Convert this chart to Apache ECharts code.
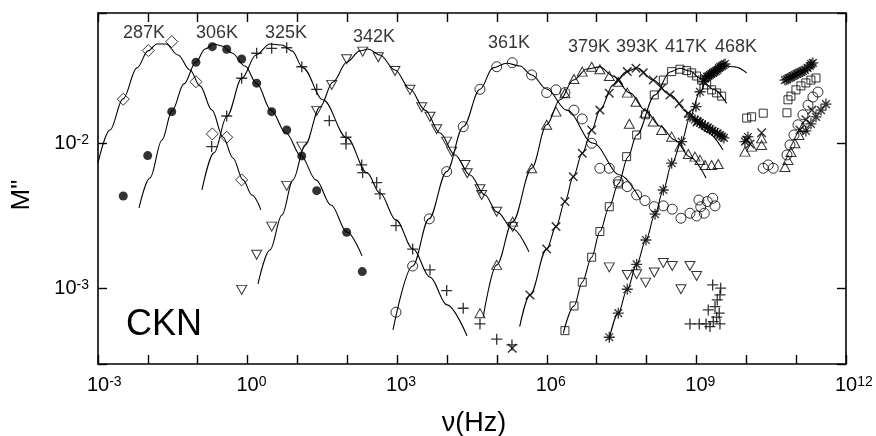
<!DOCTYPE html>
<html><head><meta charset="utf-8">
<script src="https://cdn.jsdelivr.net/npm/echarts@6/dist/echarts.min.js"></script>
<style>html,body{margin:0;padding:0;background:#fff}#c{width:876px;height:436px}</style>
</head><body><div id="c"></div>
<script>
// ---- axis ranges ----
const X_MIN = 1e-3, X_MAX = 1e12;
const Y_MIN = 3.03e-4, Y_MAX = 7.87e-2;
const X_LABEL_EXPONENTS = [-3, 0, 3, 6, 9, 12];
const Y_LABEL_EXPONENTS = [-3, -2];

// ---- temperature labels ----
const tempNames = ['287K','306K','325K','342K','361K','379K','393K','417K','468K'];
const tempLabelAnchor = [[8.36e-3,5.74e-2],[0.243,5.74e-2],[5.89,5.74e-2],[342,5.38e-2],[1.74e5,4.87e-2],[7.01e6,4.57e-2],[6.43e7,4.57e-2],[6.17e8,4.57e-2],[6.21e9,4.57e-2]];

// ---- data: [frequency Hz, M''] ----
const T287_pts = [[3.21e-3,2.01e-2],[1.02e-2,4.34e-2],[3.01e-2,5.0e-2],[9.2e-2,2.65e-2],[0.196,1.16e-2],[0.381,1.10e-2],[0.76,5.6e-3]];
const T287_fit = [[1e-3,7.32e-3],[1.74e-3,1.234e-2],[3.17e-3,2.02e-2],[6.05e-3,3.30e-2],[1.01e-2,4.32e-2],[1.52e-2,4.82e-2],[2.31e-2,4.82e-2],[4.02e-2,4.05e-2],[7.0e-2,3.19e-2],[0.111,2.48e-2],[0.193,1.69e-2],[0.321,1.105e-2],[0.509,7.92e-3],[0.808,5.6e-3],[1.22,4.41e-3],[1.85,3.48e-3]];

const T306_pts = [[3.21e-3,4.34e-3],[9.92e-3,8.22e-3],[3.01e-2,1.65e-2],[9.2e-2,3.61e-2],[0.196,4.62e-2],[0.381,4.43e-2],[0.76,3.80e-2],[1.52,2.59e-2],[3.04,1.65e-2],[6.08,1.234e-2],[12.2,8.18e-3],[24.3,4.72e-3],[97,2.44e-3],[199.5,1.31e-3]];
const T306_fit = [[6.64e-3,3.59e-3],[1.10e-2,5.77e-3],[1.92e-2,1.054e-2],[3.05e-2,1.67e-2],[5.30e-2,2.56e-2],[9.2e-2,3.62e-2],[0.140,4.45e-2],[0.212,4.82e-2],[0.307,4.67e-2],[0.486,4.18e-2],[0.886,3.40e-2],[1.54,2.56e-2],[2.94,1.69e-2],[5.89,1.177e-2],[11.8,8.18e-3],[23.5,5.6e-3],[47.0,3.76e-3],[98.4,2.45e-3],[197,1.68e-3]];

const T325_pts = [[0.19,9.48e-3],[0.381,1.54e-2],[0.76,2.80e-2],[1.52,4.16e-2],[3.04,4.50e-2],[6.08,4.54e-2],[12.2,3.36e-2],[24.3,2.35e-2],[43.5,1.43e-2],[94,1.10e-2],[94,9.89e-3],[194,7.09e-3],[203,6.28e-3],[388,5.36e-3],[451,4.48e-3],[945,2.71e-3],[2040,1.87e-3],[4540,1.344e-3],[9820,9.69e-4],[2.11e4,7.33e-4],[4.57e4,5.72e-4],[9.9e4,4.49e-4],[2.0e5,4.1e-4]];
const T325_tail = [[2.12e9,1.06e-3],[3.07e9,1.007e-3],[2.97e9,9.05e-4],[2.62e9,8.36e-4],[2.36e9,7.52e-4],[1.73e9,7.14e-4],[2.87e9,6.78e-4],[2.55e9,6.36e-4],[7.43e8,5.72e-4],[1.14e9,5.72e-4],[1.56e9,5.72e-4],[1.87e9,5.48e-4],[2.97e9,5.72e-4],[2.18e9,5.93e-4]];
const T325_fit = [[0.1217,4.77e-3],[0.212,8.58e-3],[0.386,1.54e-2],[0.772,2.81e-2],[1.473,4.05e-2],[2.81,4.82e-2],[4.89,4.74e-2],[7.76,4.32e-2],[12.9,3.30e-2],[32.5,1.99e-2],[98.4,1.088e-2],[248,6.25e-3],[451,4.55e-3],[945,2.97e-3],[2072,1.876e-3],[4540,1.20e-3],[9960,7.73e-4],[2.51e4,4.73e-4]];

const T342_pts = [[0.76,9.8e-4],[1.52,1.71e-3],[3.04,2.67e-3],[6.08,5.09e-3],[12.2,9.48e-3],[24.3,1.67e-2],[48.6,2.52e-2],[97,3.78e-2],[203,4.27e-2],[417,3.90e-2],[903,3.14e-2],[1803,2.33e-2],[3097,1.77e-2],[4540,1.52e-2],[6190,1.248e-2],[9820,1.026e-2],[1.237e4,8.76e-3],[2.29e4,7.09e-3],[2.54e4,6.22e-3],[4.57e4,4.83e-3],[4.94e4,4.41e-3],[9.9e4,3.38e-3],[2.07e5,2.66e-3]];
const T342_tail = [[1.79e7,1.40e-3],[4.11e7,1.24e-3],[6.34e7,1.257e-3],[9.6e7,1.10e-3],[1.43e8,1.29e-3],[2.17e8,1.50e-3],[3.28e8,1.43e-3],[4.9e8,9.9e-4],[7.43e8,1.43e-3],[1.01e9,1.22e-3]];
const T342_fit = [[1.616,1.077e-3],[2.81,1.845e-3],[4.89,3.21e-3],[8.13,5.6e-3],[14.2,9.73e-3],[28.3,1.777e-2],[51.5,2.64e-2],[98.4,3.62e-2],[179,4.32e-2],[259,4.45e-2],[451,4.05e-2],[903,3.19e-2],[1803,2.36e-2],[3606,1.69e-2],[7206,1.177e-2],[1.44e4,8.31e-3],[2.88e4,6.05e-3],[5.75e4,4.41e-3],[1.0e5,3.37e-3],[2.10e5,2.57e-3],[4.39e5,1.79e-3]];

const T361_pts = [[945,6.88e-4],[2040,1.43e-3],[4400,3.02e-3],[9820,6.38e-3],[2.11e4,1.30e-2],[4.57e4,2.35e-2],[9.9e4,3.36e-2],[2.03e5,3.58e-2],[4.97e5,2.95e-2],[9.94e5,2.23e-2],[1.53e6,2.33e-2],[2.31e6,2.23e-2],[3.51e6,1.69e-2],[5.14e6,1.47e-2],[7.94e6,1.0e-2],[1.16e7,6.73e-3],[1.79e7,6.73e-3],[2.71e7,5.44e-3],[4.11e7,5.03e-3],[6.34e7,4.41e-3],[9.3e7,4.03e-3],[1.43e8,3.66e-3],[2.17e8,3.71e-3],[3.28e8,3.52e-3],[4.9e8,3.05e-3],[7.43e8,3.30e-3],[1.01e9,3.16e-3],[1.12e9,4.07e-3],[1.22e9,3.66e-3],[1.44e9,3.30e-3],[1.65e9,3.97e-3],[2.12e9,4.18e-3],[2.36e9,3.71e-3],[2.19e10,6.73e-3],[2.76e10,7.09e-3],[3.48e10,6.73e-3],[6.55e10,8.31e-3],[7.52e10,9.73e-3],[9.04e10,1.14e-2],[1.09e11,1.34e-2],[1.37e11,1.57e-2],[1.73e11,1.83e-2],[2.17e11,2.08e-2],[2.74e11,2.25e-2]];
const T361_fit = [[823,5.2e-4],[2040,1.43e-3],[4340,3.02e-3],[9820,6.38e-3],[2.11e4,1.30e-2],[4.57e4,2.35e-2],[8.33e4,3.30e-2],[1.57e5,3.55e-2],[2.90e5,3.40e-2],[4.97e5,2.95e-2],[9.94e5,2.36e-2],[2.50e6,1.69e-2],[8.55e6,1.0e-2],[2.93e7,6.05e-3],[7.38e7,4.14e-3]];

const T379_pts = [[4.57e4,6.78e-4],[9.9e4,1.456e-3],[2.07e5,2.89e-3],[4.97e5,6.73e-3],[9.94e5,1.34e-2],[1.53e6,1.65e-2],[2.31e6,2.21e-2],[3.51e6,2.77e-2],[5.14e6,3.11e-2],[7.94e6,3.36e-2],[1.16e7,3.23e-2],[1.79e7,2.90e-2],[2.71e7,2.65e-2],[4.11e7,2.23e-2],[6.14e7,1.93e-2],[9.3e7,1.62e-2],[1.36e8,1.41e-2],[2.01e8,1.234e-2],[3.19e8,1.11e-2],[4.68e8,9.48e-3],[6.87e8,8.44e-3],[9.36e8,8.09e-3],[1.18e9,7.68e-3],[1.49e9,7.09e-3],[2.02e9,7.09e-3],[2.74e9,7.2e-3],[4.51e7,1.36e-2],[9.4e9,8.76e-3],[1.28e10,9.48e-3],[2.03e10,1.08e-2],[2.03e10,9.73e-3],[5.97e10,6.87e-3],[6.86e10,7.68e-3],[7.87e10,8.71e-3],[9.46e10,1.0e-2],[1.14e11,1.14e-2],[1.37e11,1.295e-2]];
const T379_fit = [[5.32e4,6.42e-4],[9.9e4,1.456e-3],[2.07e5,2.89e-3],[4.97e5,6.73e-3],[9.94e5,1.34e-2],[1.84e6,1.99e-2],[3.40e6,2.72e-2],[6.38e6,3.24e-2],[1.16e7,3.35e-2],[2.12e7,2.90e-2],[4.65e7,2.22e-2],[9.3e7,1.69e-2],[1.86e8,1.315e-2],[3.72e8,1.054e-2],[7.43e8,8.05e-3],[1.56e9,5.77e-3]];

const T393_pts = [[2.03e5,3.89e-4],[4.60e5,9.05e-4],[9.94e5,1.87e-3],[1.53e6,2.67e-3],[2.31e6,3.97e-3],[3.40e6,5.89e-3],[5.14e6,8.54e-3],[7.94e6,1.234e-2],[1.16e7,1.69e-2],[1.79e7,2.21e-2],[2.71e7,2.72e-2],[4.11e7,3.11e-2],[6.14e7,3.28e-2],[8.6e7,3.06e-2],[1.36e8,2.72e-2],[2.01e8,2.39e-2],[2.95e8,2.15e-2],[4.53e8,1.88e-2],[6.87e8,1.61e-2],[1.03e9,1.40e-2],[1.02e10,1.054e-2],[1.19e10,9.89e-3],[2.03e10,1.18e-2],[1.19e11,1.234e-2],[1.57e11,1.45e-2],[2.07e11,1.69e-2]];
const T393_fit = [[2.86e5,5.48e-4],[4.60e5,9.05e-4],[9.94e5,1.87e-3],[1.53e6,2.67e-3],[2.31e6,3.97e-3],[3.40e6,5.89e-3],[5.14e6,8.54e-3],[7.94e6,1.234e-2],[1.16e7,1.69e-2],[2.15e7,2.52e-2],[3.99e7,3.11e-2],[6.43e7,3.30e-2],[1.36e8,2.72e-2],[2.95e8,2.15e-2],[6.87e8,1.62e-2],[1.61e9,1.20e-2],[3.41e9,8.99e-3]];

const T417_pts = [[2.31e6,5.14e-4],[3.51e6,7.6e-4],[5.14e6,1.107e-3],[7.94e6,1.644e-3],[1.16e7,2.47e-3],[1.79e7,3.66e-3],[2.71e7,5.25e-3],[3.99e7,8.09e-3],[6.34e7,1.14e-2],[9.5e7,1.57e-2],[1.43e8,2.15e-2],[2.17e8,2.72e-2],[3.19e8,3.11e-2],[4.68e8,3.23e-2],[6.38e8,3.16e-2],[8.04e8,3.05e-2],[1.01e9,2.90e-2],[1.27e9,2.72e-2],[1.61e9,2.52e-2],[2.02e9,2.33e-2],[2.55e9,2.22e-2],[3.21e9,2.11e-2],[1.02e10,1.49e-2],[1.28e10,1.52e-2],[2.19e10,1.61e-2],[6.55e10,1.62e-2],[6.86e10,1.99e-2],[7.87e10,2.11e-2],[9.91e10,2.33e-2],[1.25e11,2.48e-2],[1.57e11,2.60e-2],[1.98e11,2.72e-2],[2.5e11,2.81e-2]];
const T417_fit = [[2.14e6,4.93e-4],[3.51e6,7.6e-4],[5.14e6,1.107e-3],[7.94e6,1.644e-3],[1.16e7,2.47e-3],[1.79e7,3.66e-3],[2.71e7,5.25e-3],[4.25e7,8.05e-3],[6.34e7,1.14e-2],[1.48e8,2.15e-2],[2.95e8,3.09e-2],[4.68e8,3.28e-2],[7.43e8,3.14e-2],[1.18e9,2.80e-2],[2.18e9,2.35e-2],[4.05e9,1.88e-2]];

const T468_pts = [[1.79e7,4.63e-4],[2.71e7,6.78e-4],[4.11e7,9.9e-4],[6.34e7,1.467e-3],[9.73e7,2.16e-3],[1.48e8,3.25e-3],[2.17e8,4.77e-3],[3.19e8,7.29e-3],[5.06e8,1.026e-2],[7.43e8,1.52e-2],[9.8e8,1.785e-2],[1.18e9,2.26e-2],[1.37e9,2.65e-2],[1.5e9,2.8e-2],[1.63e9,2.86e-2],[1.75e9,2.9e-2],[1.87e9,2.95e-2],[2.0e9,3.0e-2],[2.15e9,3.05e-2],[2.3e9,3.1e-2],[2.47e9,3.14e-2],[2.65e9,3.2e-2],[2.83e9,3.29e-2],[3.0e9,3.35e-2],[3.25e9,3.40e-2],[3.5e9,3.45e-2],[3.74e9,3.51e-2],[9.36e8,1.45e-2],[1.05e9,1.42e-2],[1.18e9,1.38e-2],[1.3e9,1.35e-2],[1.49e9,1.315e-2],[1.7e9,1.28e-2],[1.87e9,1.254e-2],[2.1e9,1.22e-2],[2.36e9,1.196e-2],[2.65e9,1.17e-2],[2.97e9,1.14e-2],[3.25e9,1.11e-2],[3.57e9,1.088e-2],[9.4e9,1.026e-2],[1.08e10,1.105e-2],[5.97e10,2.72e-2],[6.5e10,2.75e-2],[7.18e10,2.81e-2],[7.8e10,2.85e-2],[8.63e10,2.90e-2],[9.4e10,2.95e-2],[1.04e11,3.00e-2],[1.14e11,3.05e-2],[1.25e11,3.09e-2],[1.37e11,3.14e-2],[1.50e11,3.19e-2],[1.7e11,3.3e-2],[1.89e11,3.40e-2],[2.0e11,3.5e-2],[2.17e11,3.57e-2],[1.57e11,1.215e-2],[1.98e11,1.36e-2],[2.5e11,1.52e-2],[3.15e11,1.69e-2],[3.96e11,1.86e-2]];
const T468_fit = [[1.77e7,4.44e-4],[2.71e7,6.78e-4],[4.11e7,9.9e-4],[6.34e7,1.467e-3],[9.73e7,2.16e-3],[1.48e8,3.25e-3],[2.17e8,4.77e-3],[3.19e8,7.2e-3],[5.06e8,1.026e-2],[7.43e8,1.52e-2],[1.18e9,2.25e-2],[1.71e9,2.86e-2],[2.47e9,3.24e-2],[3.74e9,3.40e-2],[5.93e9,3.35e-2],[1.02e10,3.05e-2]];

// ---- styling ----
const FONT = '"Liberation Sans", Arial, Helvetica, sans-serif';
const PLUS = 'path://M4.4,0h1.2v10h-1.2z M0,4.4h10v1.2h-10z';
const STAR = 'path://M4.4,0h1.2v10h-1.2z M0,4.4h10v1.2h-10z M1.92,1.08L8.92,8.08L8.08,8.92L1.08,1.92z M8.08,1.08L8.92,1.92L1.92,8.92L1.08,8.08z';
const OPEN = {color: 'rgba(0,0,0,0)', borderColor: '#000', borderWidth: 1};
const FILL = {color: '#000', borderWidth: 0};

const sets = [
  {name: '287K', pts: T287_pts, fit: T287_fit, symbol: 'diamond', size: 12, rot: 0, item: OPEN},
  {name: '306K', pts: T306_pts, fit: T306_fit, symbol: 'circle', size: 9, rot: 0, item: FILL},
  {name: '325K', pts: T325_pts.concat(T325_tail), fit: T325_fit, symbol: PLUS, size: 11, rot: 0, item: FILL},
  {name: '342K', pts: T342_pts.concat(T342_tail), fit: T342_fit, symbol: 'triangle', size: [10, 9], rot: 180, item: OPEN},
  {name: '361K', pts: T361_pts, fit: T361_fit, symbol: 'circle', size: 10, rot: 0, item: OPEN},
  {name: '379K', pts: T379_pts, fit: T379_fit, symbol: 'triangle', size: [10, 9], rot: 0, item: OPEN},
  {name: '393K', pts: T393_pts, fit: T393_fit, symbol: PLUS, size: 12, rot: 45, item: FILL},
  {name: '417K', pts: T417_pts, fit: T417_fit, symbol: 'rect', size: 8, rot: 0, item: OPEN},
  {name: '468K', pts: T468_pts, fit: T468_fit, symbol: STAR, size: 11, rot: 0, item: FILL}
];

const supRich = {
  b: {fontSize: 20, lineHeight: 20, padding: [8, 0, 0, 0], verticalAlign: 'bottom', fontFamily: FONT, color: '#000'},
  s: {fontSize: 14, lineHeight: 14, verticalAlign: 'top', fontFamily: FONT, color: '#000'},
  p8: {width: 7.8, fontSize: 14, lineHeight: 14},
  p12: {width: 12.5, fontSize: 14, lineHeight: 14},
  p16: {width: 15.6, fontSize: 14, lineHeight: 14}
};
function powLabel(e, centerBase) {
  const sup = String(e);
  let pre = '';
  if (centerBase) {
    const w = sup.length === 1 ? 'p8' : (sup[0] === '-' ? 'p12' : 'p16');
    pre = '{' + w + '|\u00a0}';
  }
  return pre + '{b|10}{s|' + sup + '}';
}
function isExp(v, list) {
  const r = Math.round(v);
  return Math.abs(v - r) < 1e-6 && list.indexOf(r) >= 0;
}

const lx0 = Math.log10(X_MIN), lx1 = Math.log10(X_MAX);
const ly0 = Math.log10(Y_MIN), ly1 = Math.log10(Y_MAX);
const axisLine = {show: true, onZero: false, lineStyle: {color: '#000', width: 1.6}};
const tick = {show: true, inside: true, length: 9, lineStyle: {color: '#000', width: 1.4}};

const series = [];
sets.forEach(s => {
  series.push({
    type: 'line', name: s.name + ' fit', xAxisIndex: 0, yAxisIndex: 0,
    data: s.fit, showSymbol: false, symbol: 'none', smooth: 0.35, smoothMonotone: 'x',
    lineStyle: {color: '#000', width: 1.1}, z: 2, silent: true
  });
});
sets.forEach(s => {
  series.push({
    type: 'scatter', name: s.name, xAxisIndex: 0, yAxisIndex: 0,
    data: s.pts, symbol: s.symbol, symbolSize: s.size, symbolRotate: s.rot,
    itemStyle: s.item, z: 3, silent: true
  });
});
series.push({
  type: 'scatter', name: 'labels', xAxisIndex: 0, yAxisIndex: 0,
  data: tempNames.map((n, i) => ({name: n, value: tempLabelAnchor[i]})),
  symbolSize: 1, itemStyle: {color: 'rgba(0,0,0,0)'}, z: 5, silent: true,
  label: {show: true, position: 'inside', formatter: '{b}', fontSize: 18, fontFamily: FONT, color: '#000'}
});

const chart = echarts.init(document.getElementById('c'), null, {renderer: 'canvas'});
chart.setOption({
  animation: false,
  backgroundColor: '#fff',
  grid: {left: 98, right: 30, top: 13, bottom: 72, containLabel: false},
  xAxis: [
    {type: 'log', logBase: 10, min: X_MIN, max: X_MAX, show: false},
    {type: 'value', position: 'bottom', min: lx0, max: lx1, interval: 1,
     axisLine: axisLine, axisTick: tick, splitLine: {show: false},
     axisLabel: {margin: 11, color: '#000', fontFamily: FONT, rich: supRich,
       formatter: v => isExp(v, X_LABEL_EXPONENTS) ? powLabel(Math.round(v), true) : ''}},
    {type: 'value', position: 'top', min: lx0, max: lx1, interval: 1,
     axisLine: axisLine, axisTick: tick, splitLine: {show: false}, axisLabel: {show: false}}
  ],
  yAxis: [
    {type: 'log', logBase: 10, min: Y_MIN, max: Y_MAX, show: false},
    {type: 'value', position: 'left', min: ly0, max: ly1, minInterval: 1, maxInterval: 1,
     axisLine: axisLine, axisTick: tick, splitLine: {show: false},
     axisLabel: {margin: 9, color: '#000', fontFamily: FONT, rich: supRich,
       formatter: v => isExp(v, Y_LABEL_EXPONENTS) ? powLabel(Math.round(v), false) : ''}},
    {type: 'value', position: 'right', min: ly0, max: ly1, minInterval: 1, maxInterval: 1,
     axisLine: axisLine, axisTick: tick, splitLine: {show: false}, axisLabel: {show: false}}
  ],
  graphic: [
    {type: 'text', x: 474, y: 424, style: {text: 'ν(Hz)', font: '27px ' + FONT, fill: '#000', align: 'center', verticalAlign: 'middle'}},
    {type: 'text', x: 22, y: 195, rotation: Math.PI / 2, style: {text: 'M"', font: '26px ' + FONT, fill: '#000', align: 'center', verticalAlign: 'middle'}},
    {type: 'text', x: 164, y: 325, style: {text: 'CKN', font: '36px ' + FONT, fill: '#000', align: 'center', verticalAlign: 'middle'}}
  ],
  series: series
});
</script></body></html>
